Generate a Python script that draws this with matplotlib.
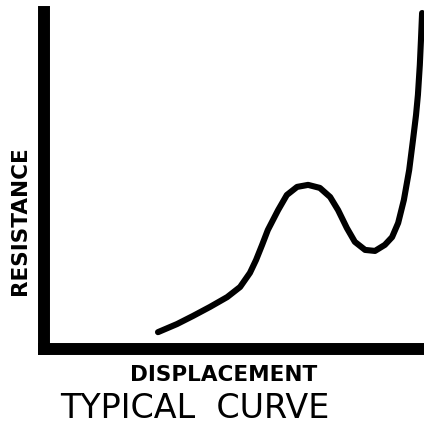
import matplotlib
matplotlib.use('Agg')
import matplotlib.pyplot as plt

# displacement / resistance readings (arbitrary units, 0-100)
displacement = [30.0, 35.0, 39.2, 43.7, 48.2, 51.6, 54.2, 55.8, 57.4, 58.9,
                61.6, 63.9, 66.6, 69.5, 72.6, 75.3, 77.4, 79.7, 81.8, 84.5,
                87.1, 89.7, 91.6, 93.2, 94.7, 96.1, 97.1, 97.9, 98.4, 98.9,
                99.2, 99.5]
resistance = [5.0, 7.4, 9.8, 12.5, 15.4, 18.4, 22.6, 26.4, 30.9, 35.3,
              41.2, 45.7, 48.1, 48.7, 47.8, 45.1, 41.2, 35.9, 31.8, 29.4,
              29.1, 30.9, 33.2, 37.4, 44.2, 53.1, 62.0, 69.4, 75.4, 84.3,
              91.7, 99.7]

W, H = 424, 433
fig = plt.figure(figsize=(W / 100, H / 100), dpi=100)
ax = fig.add_axes([44 / W, (H - 349) / H, (W - 44) / W, (349 - 12) / H])

ax.plot(displacement, resistance, color='black', lw=4.4,
        solid_capstyle='round', solid_joinstyle='round', clip_on=False)

ax.set_xlim(0, 100)
ax.set_ylim(0, 100)
ax.set_xticks([])
ax.set_yticks([])
for side in ['top', 'right']:
    ax.spines[side].set_visible(False)
for side in ['left', 'bottom']:
    ax.spines[side].set_linewidth(8.6)
    ax.spines[side].set_capstyle('projecting')

fig.text(20 / W, 1 - 221 / H, 'RESISTANCE', rotation=90, ha='center', va='center',
         fontsize=15.5, fontweight='bold', family='DejaVu Sans')
fig.text(224 / W, 1 - 375 / H, 'DISPLACEMENT', ha='center', va='center',
         fontsize=15.5, fontweight='bold', family='DejaVu Sans')
fig.text(195 / W, 1 - 409 / H, 'TYPICAL  CURVE', ha='center', va='center',
         fontsize=24, family='DejaVu Sans')

fig.savefig('out.png', dpi=100)
